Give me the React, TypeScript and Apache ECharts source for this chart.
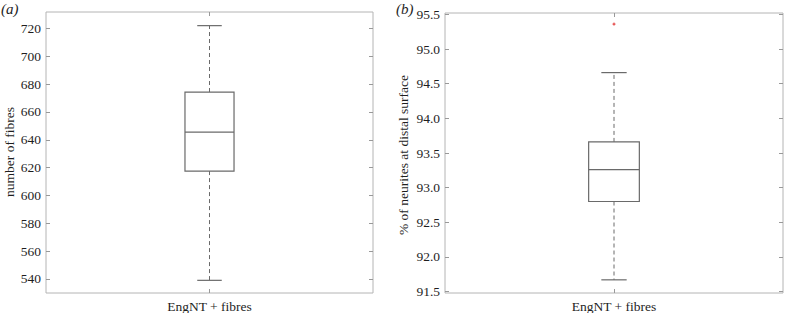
import React, { useEffect, useRef } from "react";
import * as echarts from "echarts";

const categories = ["EngNT + fibres"];
// [min whisker, q1, median, q3, max whisker]
const fibreStats = [539, 617.5, 645.5, 674.3, 722];
const neuriteStats = [91.67, 92.8, 93.26, 93.66, 94.66];
const neuriteOutliers = [95.36];
const fibreTicks = [540, 560, 580, 600, 620, 640, 660, 680, 700, 720];
const neuriteTicks = [91.5, 92.0, 92.5, 93.0, 93.5, 94.0, 94.5, 95.0, 95.5];

const FONT = "Liberation Serif";
const TEXT = "#1e1e1e";
const FRAME = "#b4b4b4";
const BOXC = "#6a6a6a";

function renderBox(params: any, api: any) {
  const x = api.value(0);
  const lo = api.coord([x, api.value(1)]);
  const q1 = api.coord([x, api.value(2)]);
  const med = api.coord([x, api.value(3)]);
  const q3 = api.coord([x, api.value(4)]);
  const hi = api.coord([x, api.value(5)]);
  const bw = api.size([1, 0])[0] * 0.15;
  const cx = lo[0];
  const solid = { stroke: BOXC, lineWidth: 1.2, fill: "none" };
  const dashed = { stroke: BOXC, lineWidth: 1, lineDash: [4, 3], fill: "none" };
  return {
    type: "group",
    children: [
      { type: "line", shape: { x1: cx, y1: q3[1], x2: cx, y2: hi[1] }, style: dashed },
      { type: "line", shape: { x1: cx, y1: q1[1], x2: cx, y2: lo[1] }, style: dashed },
      { type: "line", shape: { x1: cx - bw / 4, y1: hi[1], x2: cx + bw / 4, y2: hi[1] }, style: solid },
      { type: "line", shape: { x1: cx - bw / 4, y1: lo[1], x2: cx + bw / 4, y2: lo[1] }, style: solid },
      { type: "rect", shape: { x: cx - bw / 2, y: q3[1], width: bw, height: q1[1] - q3[1] }, style: solid },
      { type: "line", shape: { x1: cx - bw / 2, y1: med[1], x2: cx + bw / 2, y2: med[1] }, style: solid },
    ],
  };
}

function renderOutlier(params: any, api: any) {
  const p = api.coord([api.value(0), api.value(1)]);
  const st = { stroke: "#e03030", lineWidth: 1 };
  return {
    type: "group",
    children: [
      { type: "line", shape: { x1: p[0] - 1.5, y1: p[1], x2: p[0] + 1.5, y2: p[1] }, style: st },
      { type: "line", shape: { x1: p[0], y1: p[1] - 1.5, x2: p[0], y2: p[1] + 1.5 }, style: st },
    ],
  };
}

function yAxes(gridIndex: number, min: number, max: number, ticks: number[], fmt: (v: number) => string) {
  const base = {
    type: "value",
    gridIndex,
    min,
    max,
    splitLine: { show: false },
    axisLine: { show: false },
    axisTick: { show: true, inside: true, length: 4, customValues: ticks, lineStyle: { color: "#999" } },
  };
  return [
    {
      ...base,
      position: "left",
      axisLabel: {
        show: true,
        customValues: ticks,
        formatter: (v: number) => fmt(v),
        color: TEXT,
        fontFamily: FONT,
        fontSize: 13.5,
        margin: 5,
      },
    },
    {
      ...base,
      position: "right",
      axisLabel: { show: false },
    },
  ];
}

function xAxes(gridIndex: number) {
  const base = {
    type: "category",
    gridIndex,
    data: categories,
    axisLine: { show: false },
    splitLine: { show: false },
    axisTick: { show: true, inside: true, alignWithLabel: true, length: 4, lineStyle: { color: "#999" } },
  };
  return [
    {
      ...base,
      position: "bottom",
      axisLabel: { color: TEXT, fontFamily: FONT, fontSize: 13.5, margin: 6 },
    },
    { ...base, position: "top", axisLabel: { show: false } },
  ];
}

export default function App() {
  const ref = useRef<HTMLDivElement>(null);
  useEffect(() => {
    if (!ref.current) return;
    const chart = echarts.init(ref.current, null, { renderer: "svg" });
    chart.setOption({
      animation: false,
      backgroundColor: "#fff",
      grid: [
        { left: 46, top: 12, width: 327, height: 281, show: true, borderColor: FRAME, borderWidth: 1, backgroundColor: "transparent" },
        { left: 445, top: 13, width: 338, height: 280, show: true, borderColor: FRAME, borderWidth: 1, backgroundColor: "transparent" },
      ],
      xAxis: [...xAxes(0), ...xAxes(1)],
      yAxis: [
        ...yAxes(0, 529.9, 731.8, fibreTicks, (v) => String(v)),
        ...yAxes(1, 91.48, 95.52, neuriteTicks, (v) => v.toFixed(1)),
      ],
      series: [
        {
          type: "custom",
          xAxisIndex: 0,
          yAxisIndex: 0,
          renderItem: renderBox,
          encode: { x: 0, y: [1, 2, 3, 4, 5] },
          data: [[0, ...fibreStats]],
        },
        {
          type: "custom",
          xAxisIndex: 2,
          yAxisIndex: 2,
          renderItem: renderBox,
          encode: { x: 0, y: [1, 2, 3, 4, 5] },
          data: [[0, ...neuriteStats]],
        },
        {
          type: "custom",
          xAxisIndex: 2,
          yAxisIndex: 2,
          renderItem: renderOutlier,
          encode: { x: 0, y: 1 },
          data: neuriteOutliers.map((v) => [0, v]),
        },
      ],
      graphic: [
        { type: "text", left: 1, top: 1, style: { text: "(a)", fontFamily: FONT, fontStyle: "italic", fontSize: 15, fill: TEXT } },
        { type: "text", left: 396, top: 1, style: { text: "(b)", fontFamily: FONT, fontStyle: "italic", fontSize: 15, fill: TEXT } },
        {
          type: "text",
          x: 9,
          y: 152,
          rotation: Math.PI / 2,
          style: { text: "number of fibres", fontFamily: FONT, fontSize: 13.5, fill: TEXT, align: "center", verticalAlign: "middle" },
        },
        {
          type: "text",
          x: 403,
          y: 155,
          rotation: Math.PI / 2,
          style: { text: "% of neurites at distal surface", fontFamily: FONT, fontSize: 13.5, fill: TEXT, align: "center", verticalAlign: "middle" },
        },
      ],
    });
    return () => chart.dispose();
  }, []);
  return <div ref={ref} style={{ position: "fixed", left: 0, top: 0, width: 785, height: 313 }} />;
}
